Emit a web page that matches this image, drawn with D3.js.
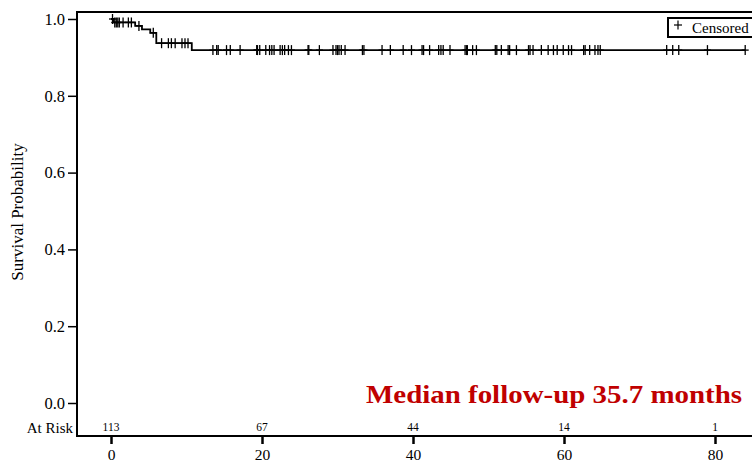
<!DOCTYPE html>
<html><head><meta charset="utf-8">
<script src="https://cdn.jsdelivr.net/npm/d3@7"></script>
<style>body{margin:0;background:#fff}svg{display:block}</style>
</head><body>
<script>
// Kaplan-Meier steps: event times and survival after each event
const stepTimes = [0, 0.3, 3.2, 4.1, 5.2, 6.0, 10.7];
const stepSurv  = [1.0, 0.991, 0.982, 0.973, 0.964, 0.937, 0.919];
const endTime = 84.0;
// censored times
const censorTimes = [0.2,0.5,0.7,0.9,1.1,1.6,2.3,2.7,3.7,5.6,6.7,7.6,8.0,8.5,9.4,9.8,10.2,
 13.5,14.0,14.2,15.3,15.8,17.1,19.3,19.4,19.7,20.5,21.0,21.3,21.6,22.4,22.7,23.0,23.5,23.9,
 26.1,26.2,27.6,29.4,29.8,30.0,30.2,30.5,31.0,33.3,33.5,35.9,37.0,38.7,39.8,41.2,41.4,42.2,
 43.4,43.7,44.0,44.9,46.9,47.1,47.2,47.9,48.4,50.9,51.1,51.7,52.6,52.8,53.7,55.3,55.5,55.9,
 57.0,57.9,58.6,59.1,59.9,60.6,61.0,62.6,62.8,63.4,64.1,64.5,64.8,73.6,74.4,75.2,79.0,84.0];
const xTicks = [0, 20, 40, 60, 80];
const yTicks = [0.0, 0.2, 0.4, 0.6, 0.8, 1.0];
const atRiskTimes = [0, 20, 40, 60, 80];
const atRiskCounts = [113, 67, 44, 14, 1];

const W = 752, H = 463;
const svg = d3.select("body").append("svg").attr("width", W).attr("height", H);
const x = d3.scaleLinear().domain([0, 80]).range([111, 715]);
const y = d3.scaleLinear().domain([0, 1]).range([403, 19]);
const font = "'Liberation Serif', 'DejaVu Serif', serif";
const L = 77, T = 12, B = 436, R = 760;

// plot box
svg.append("rect").attr("x", L).attr("y", T).attr("width", R - L).attr("height", B - T)
  .attr("fill", "none").attr("stroke", "#000").attr("stroke-width", 2);

// y axis ticks
const yAxis = d3.axisLeft(y).tickValues(yTicks).tickFormat(d3.format(".1f")).tickSize(9).tickPadding(3);
const gy = svg.append("g").attr("transform", `translate(${L},0)`).call(yAxis);
gy.select(".domain").remove();
gy.selectAll("line").attr("stroke", "#000").attr("stroke-width", 1.5);
gy.selectAll("text").attr("font-family", font).attr("font-size", 16.5).attr("fill", "#000");

// x axis ticks
const xAxis = d3.axisBottom(x).tickValues(xTicks).tickSize(8).tickPadding(5);
const gx = svg.append("g").attr("transform", `translate(0,${B})`).call(xAxis);
gx.select(".domain").remove();
gx.selectAll("line").attr("stroke", "#000").attr("stroke-width", 2.5);
gx.selectAll("text").attr("font-family", font).attr("font-size", 15.5).attr("fill", "#000");

// y title
svg.append("text").attr("transform", "translate(23,212) rotate(-90)")
  .attr("text-anchor", "middle").attr("font-family", font).attr("font-size", 17)
  .text("Survival Probability");

// at risk
svg.append("text").attr("x", 73).attr("y", 433).attr("text-anchor", "end")
  .attr("font-family", font).attr("font-size", 15).text("At Risk");
svg.selectAll(".ar").data(atRiskTimes).enter().append("text")
  .attr("x", d => x(d)).attr("y", 431).attr("text-anchor", "middle")
  .attr("font-family", font).attr("font-size", 11.5)
  .text((d, i) => atRiskCounts[i]);

// KM curve
const pts = stepTimes.map((t, i) => [t, stepSurv[i]]);
pts.push([endTime, stepSurv[stepSurv.length - 1]]);
const line = d3.line().x(d => x(d[0])).y(d => y(d[1])).curve(d3.curveStepAfter);
svg.append("path").datum(pts).attr("d", line).attr("fill", "none")
  .attr("stroke", "#000").attr("stroke-width", 1.8);

function survAt(t) {
  let s = 1;
  for (let i = 0; i < stepTimes.length; i++) if (stepTimes[i] <= t) s = stepSurv[i];
  return s;
}
const cg = svg.append("g").attr("stroke", "#000").attr("stroke-width", 1.3);
censorTimes.forEach(t => {
  const cx = x(t), cy = y(survAt(t));
  cg.append("line").attr("x1", cx).attr("x2", cx).attr("y1", cy - 5).attr("y2", cy + 5);
  cg.append("line").attr("x1", cx - 3.5).attr("x2", cx + 3.5).attr("y1", cy).attr("y2", cy);
});

// legend
svg.append("rect").attr("x", 668).attr("y", 18).attr("width", 92).attr("height", 19)
  .attr("fill", "#fff").attr("stroke", "#000").attr("stroke-width", 2);
svg.append("line").attr("x1", 678).attr("x2", 678).attr("y1", 20.5).attr("y2", 29.5).attr("stroke", "#000").attr("stroke-width", 1.2);
svg.append("line").attr("x1", 674).attr("x2", 682).attr("y1", 25).attr("y2", 25).attr("stroke", "#000").attr("stroke-width", 1.2);
svg.append("text").attr("x", 692).attr("y", 32.5).attr("font-family", font).attr("font-size", 15).text("Censored");

// annotation
svg.append("text").attr("x", 366).attr("y", 403).attr("font-family", font)
  .attr("font-size", 25).attr("font-weight", "bold").attr("fill", "#c00000")
  .attr("textLength", 376).attr("lengthAdjust", "spacingAndGlyphs")
  .text("Median follow-up 35.7 months");
</script>
</body></html>
